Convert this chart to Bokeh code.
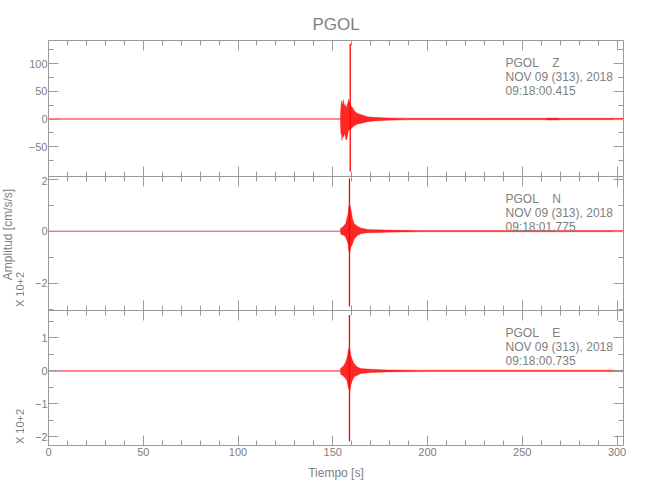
import math
from bokeh.plotting import figure
from bokeh.models import (Range1d, LinearAxis, Label, SingleIntervalTicker, FixedTicker,
                          ColumnDataSource)
from bokeh.layouts import column, row
from bokeh.embed import file_html
from bokeh.resources import INLINE

# ---------------- data ----------------
title_text = "PGOL"
x_label = "Tiempo [s]"
y_label = "Amplitud [cm/s/s]"
scale_label = "X 10+2"
station = "PGOL"
channels = ["Z", "N", "E"]
stamp_date = "NOV 09 (313), 2018"
stamp_times = ["09:18:00.415", "09:18:01.775", "09:18:00.735"]

x_limits = (0, 303.4)
y_limits = [(-104, 142), (-3.05, 2.1), (-2.26, 1.83)]
y_major = [[-50, 0, 50, 100], [-2, 0, 2], [-2, -1, 0, 1]]
y_minor = [[-75, -25, 25, 75, 125], [-3, -1, 1], [-1.5, -0.5, 0.5, 1.5]]

# envelope of the dense trace: time [s], upper and lower amplitude
z_t  = [0, 154.0, 154.25, 154.6, 154.8, 155.3, 155.65, 156.1, 156.5, 157.0, 157.4, 157.9, 158.3, 159.5, 160.4, 161.3, 163.0, 164.8, 168.3, 171.8, 178.9, 187.7, 196.5, 230, 262, 263.5, 266, 268.5, 270, 303.4]
z_up = [0.3, 0.3, 21, 30, 33, 25, 35, 22, 27, 20, 24, 28, 36, 24, 21, 15, 10, 8, 4, 3, 2, 1.5, 1.2, 1.2, 1.2, 1.8, 1.8, 1.8, 1.2, 1.2]
z_lo = [-0.3, -0.3, -24, -30, -39, -28, -33, -26, -30, -38, -36, -28, -21, -18, -15, -12, -9, -8, -5, -3.6, -2.4, -1.5, -1.2, -1.2, -1.2, -1.8, -1.8, -1.8, -1.2, -1.2]

n_t  = [0, 154.0, 154.25, 155.1, 155.9, 156.8, 157.4, 158.1, 158.4, 159.1, 159.5, 160.4, 161.3, 163.0, 164.8, 168.3, 178.9, 196.5, 303.4]
n_up = [0.008, 0.008, 0.12, 0.15, 0.22, 0.28, 0.48, 0.67, 0.93, 1.0, 0.86, 0.48, 0.28, 0.19, 0.12, 0.06, 0.04, 0.025, 0.025]
n_lo = [-0.008, -0.008, -0.12, -0.14, -0.17, -0.23, -0.36, -0.49, -0.75, -0.81, -0.62, -0.49, -0.3, -0.17, -0.1, -0.06, -0.04, -0.025, -0.025]

e_t  = [0, 154.0, 154.25, 155.1, 155.9, 156.8, 157.4, 158.1, 158.4, 159.1, 159.5, 160.4, 161.3, 163.0, 164.8, 170.0, 178.9, 196.5, 303.4]
e_up = [0.008, 0.008, 0.09, 0.12, 0.17, 0.27, 0.37, 0.58, 0.68, 0.63, 0.47, 0.32, 0.22, 0.12, 0.07, 0.05, 0.03, 0.02, 0.02]
e_lo = [-0.008, -0.008, -0.11, -0.13, -0.18, -0.23, -0.28, -0.48, -0.54, -0.59, -0.43, -0.28, -0.18, -0.13, -0.08, -0.05, -0.03, -0.02, -0.02]

# main spike of each trace
spike_t   = [159.2, 158.8, 158.8]
spike_max = [136, 2.02, 1.69]
spike_min = [-95, -2.9, -2.13]

traces = [(z_t, z_up, z_lo), (n_t, n_up, n_lo), (e_t, e_up, e_lo)]

# ---------------- styling ----------------
FONT = "Liberation Sans"
TXT = "#808080"
AX = "#9a9a9a"
RED = "#ff0000"

STRIP = 24          # strip at the left holding the rotated texts
LEFT, RIGHT = 24, 17
W = 623 - STRIP + RIGHT
frame_h = [136, 134, 135]
top_b = [40, 0, 0]
bot_b = [0, 0, 45]
TOTAL_H = sum(frame_h) + sum(top_b) + sum(bot_b)

x_range = Range1d(*x_limits)
figs = []


def style_axis(ax, labels, line=True):
    ax.axis_line_color = AX if line else None
    ax.major_tick_line_color = AX
    ax.minor_tick_line_color = AX
    ax.major_tick_in = 10
    ax.major_tick_out = 0
    ax.minor_tick_in = 5
    ax.minor_tick_out = 0
    ax.major_label_text_font = FONT
    ax.major_label_text_font_size = "11px"
    ax.major_label_standoff = 1
    ax.major_label_text_color = TXT if labels else None


for i in range(3):
    fh = frame_h[i]
    p = figure(width=W, height=fh + top_b[i] + bot_b[i],
               x_range=x_range, y_range=Range1d(*y_limits[i]),
               output_backend="svg", toolbar_location=None,
               min_border_left=LEFT, min_border_right=RIGHT,
               min_border_top=top_b[i], min_border_bottom=bot_b[i],
               x_axis_location=None, y_axis_location=None)
    p.grid.visible = False
    p.outline_line_color = None
    p.title.visible = False

    xt = SingleIntervalTicker(interval=50, num_minor_ticks=5)
    yt = FixedTicker(ticks=y_major[i], minor_ticks=y_minor[i])

    left = LinearAxis(ticker=yt)
    style_axis(left, True)
    p.add_layout(left, "left")
    right = LinearAxis(ticker=yt)
    style_axis(right, False)
    p.add_layout(right, "right")
    above = LinearAxis(ticker=xt)
    style_axis(above, False)
    p.add_layout(above, "above")
    below = LinearAxis(ticker=xt)
    style_axis(below, i == 2, line=(i == 2))
    p.add_layout(below, "below")
    if i == 2:
        below.major_label_standoff = 2
        below.axis_label = x_label
        below.axis_label_text_font = FONT
        below.axis_label_text_font_size = "12px"
        below.axis_label_text_font_style = "normal"
        below.axis_label_text_color = TXT
        below.axis_label_standoff = 7

    t, up, lo = traces[i]
    src = ColumnDataSource(dict(t=t, up=up, lo=lo))
    p.varea(x="t", y1="lo", y2="up", source=src, fill_color=RED, fill_alpha=0.85)
    p.line(x="t", y="up", source=src, line_color=RED, line_alpha=0.35, line_width=1)
    p.line(x="t", y="lo", source=src, line_color=RED, line_alpha=0.35, line_width=1)
    ssrc = ColumnDataSource(dict(t=[spike_t[i]], a=[spike_min[i]], b=[spike_max[i]]))
    p.segment(x0="t", y0="a", x1="t", y1="b", source=ssrc, line_color=RED, line_width=1.3)

    # station stamp
    for k, txt in enumerate([f"{station}\u00a0\u00a0\u00a0\u00a0{channels[i]}", stamp_date, stamp_times[i]]):
        p.add_layout(Label(x=457, y=fh - 22 - 14.3 * k, x_units="screen", y_units="screen",
                           text=txt, text_font=FONT, text_font_size="12px",
                           text_color=TXT, text_baseline="middle", text_align="left"))
    figs.append(p)

# title on the top panel
figs[0].title.visible = True
figs[0].title.text = title_text
figs[0].title.align = "center"
figs[0].title.text_font = FONT
figs[0].title.text_font_size = "17px"
figs[0].title.text_font_style = "normal"
figs[0].title.text_color = TXT
figs[0].title.standoff = 14

# left strip with the rotated texts
strip = figure(width=STRIP, height=TOTAL_H, x_range=Range1d(0, STRIP), y_range=Range1d(0, TOTAL_H),
               output_backend="svg", toolbar_location=None, min_border=0,
               x_axis_location=None, y_axis_location=None)
strip.grid.visible = False
strip.outline_line_color = None
strip.title.visible = False
strip.add_layout(Label(x=7.5, y=TOTAL_H - 234, x_units="screen", y_units="screen",
                       text=y_label, text_font=FONT, text_font_size="12px", angle=math.pi / 2,
                       text_color=TXT, text_align="center", text_baseline="middle"))
for yc in (289, 426):
    strip.add_layout(Label(x=19, y=TOTAL_H - yc, x_units="screen", y_units="screen",
                           text=scale_label, text_font=FONT, text_font_size="11px", angle=math.pi / 2,
                           text_color=TXT, text_align="center", text_baseline="middle"))

layout = row(strip, column(*figs, spacing=0), spacing=0)
open("out.html", "w").write(file_html(layout, INLINE))
